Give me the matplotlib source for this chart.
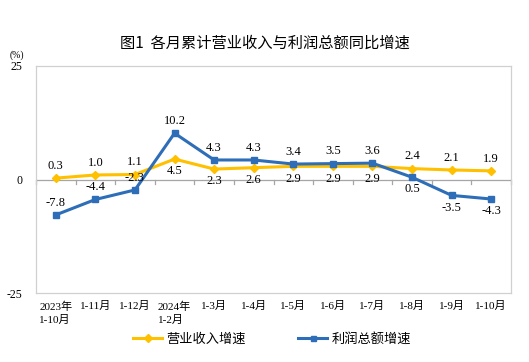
import matplotlib
matplotlib.use("Agg")
import matplotlib.pyplot as plt
import numpy as np

categories = ["2023年\n1-10月", "1-11月", "1-12月", "2024年\n1-2月", "1-3月", "1-4月",
              "1-5月", "1-6月", "1-7月", "1-8月", "1-9月", "1-10月"]
revenue = [0.3, 1.0, 1.1, 4.5, 2.3, 2.6, 2.9, 2.9, 2.9, 2.4, 2.1, 1.9]
profit = [-7.8, -4.4, -2.3, 10.2, 4.3, 4.3, 3.4, 3.5, 3.6, 0.5, -3.5, -4.3]
rev_pos = ["a", "a", "a", "b", "b", "b", "b", "b", "b", "a", "a", "a"]
pro_pos = ["a", "a", "a", "a", "a", "a", "a", "a", "a", "b", "b", "b"]

YEL = "#FFC000"
BLU = "#2E6DB7"
serif = ["Liberation Serif", "Noto Sans CJK SC"]

fig = plt.figure(figsize=(5.29, 3.62), dpi=100)
ax = fig.add_axes([36/529, 1-293/362, 475/529, 227/362])
x = np.arange(len(categories))
ax.set_xlim(-0.5, len(categories)-0.5)
ax.set_ylim(-25, 25)

ax.axhline(0, color="#A6A6A6", lw=0.9, zorder=1)
for b in np.arange(-0.5, len(categories)+0.5, 1.0):
    ax.plot([b, b], [0, -1.0], color="#A6A6A6", lw=0.9, zorder=1, clip_on=False)

l1, = ax.plot(x, revenue, color=YEL, lw=2.2, marker="D", ms=4.5, zorder=3)
l2, = ax.plot(x, profit, color=BLU, lw=2.2, marker="s", ms=4.5, zorder=4)

for xi, v, p in zip(x, revenue, rev_pos):
    off = 2.7 if p == "a" else -2.7
    ax.text(xi, v+off, f"{v:.1f}", ha="center", va="center", fontsize=9, family=serif, zorder=5)
for xi, v, p in zip(x, profit, pro_pos):
    off = 2.7 if p == "a" else -2.7
    ax.text(xi, v+off, f"{v:.1f}", ha="center", va="center", fontsize=9, family=serif, zorder=5)

for s in ax.spines.values():
    s.set_color("#D0D0D0")
    s.set_linewidth(0.9)

ax.set_yticks([25, 0, -25])
ax.set_yticklabels(["25", "0", "-25"], family=serif, fontsize=8.5)
ax.tick_params(axis="y", length=0, pad=10)
ax.set_xticks(x)
ax.set_xticklabels(categories, family=serif, fontsize=8, linespacing=1.4)
ax.tick_params(axis="x", length=0, pad=6)
for lab in ax.get_xticklabels():
    lab.set_verticalalignment("top")
    lab.set_horizontalalignment("center")
    lab.set_multialignment("left")

fig.text(17/529, 1-55/362, "(%)", fontsize=7, family=serif, ha="center", va="center")
fig.text(0.5, 1-43/362, "图1  各月累计营业收入与利润总额同比增速", fontsize=11,
         family=["Noto Sans CJK SC", "DejaVu Sans"], ha="center", va="center")

leg = fig.legend([l1, l2], ["营业收入增速", "利润总额增速"], loc="center",
                 bbox_to_anchor=(272/529, 1-339/362), ncol=2, frameon=False,
                 prop={"family": serif, "size": 9.5}, handlelength=2.2,
                 columnspacing=4, handletextpad=0.3, markerscale=0.8)

fig.savefig("out.png", dpi=100)
